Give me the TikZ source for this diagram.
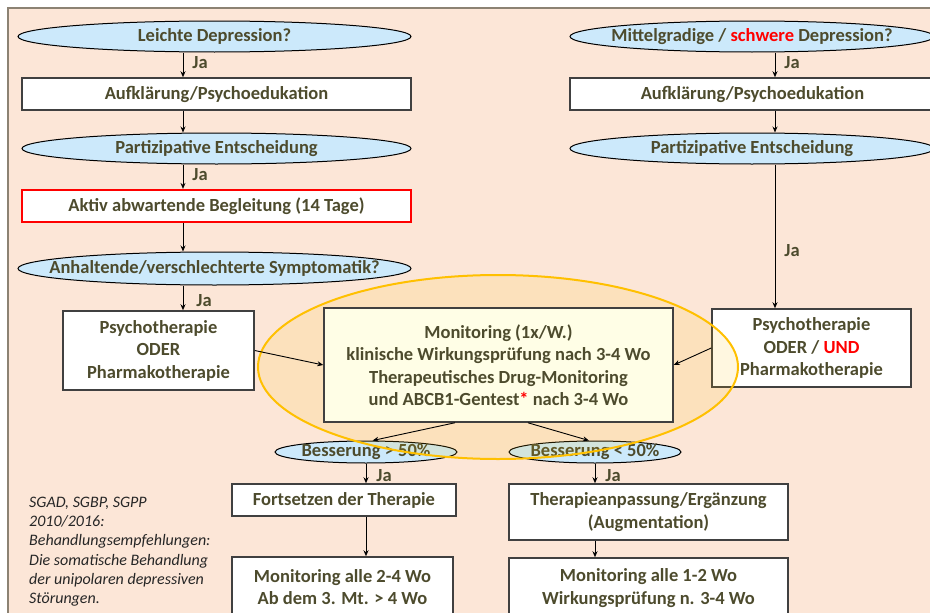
\documentclass[tikz,border=0pt]{standalone}
\usepackage{fontspec}
\setmainfont{Carlito}
\usepackage{tikz}
\definecolor{peach}{RGB}{252,230,215}
\definecolor{framecol}{RGB}{140,130,115}
\definecolor{skyblue}{RGB}{204,233,251}
\definecolor{inkolive}{RGB}{77,75,45}
\definecolor{monfill}{RGB}{255,254,230}
\definecolor{amber}{RGB}{255,192,0}
\usetikzlibrary{shapes.geometric}
\usetikzlibrary{arrows.meta}
\newcommand{\flowfont}{\fontsize{18.5}{22.5}\selectfont\bfseries}
\tikzset{
	qst/.style={ellipse,fill=skyblue,draw=black,line width=1pt,inner xsep=-40pt,inner ysep=-4pt,text=inkolive,font=\flowfont},
	box/.style={rectangle,fill=white,draw=black!75,line width=1.5pt,inner sep=0pt,text=inkolive,font=\flowfont,align=center},
	redbox/.style={box,draw=red,line width=2.2pt},
	monbox/.style={box,fill=monfill},
	arr/.style={->,line width=0.9pt},
	ja/.style={text=inkolive,font=\flowfont,inner sep=0pt},
	note/.style={align=left,font=\fontsize{16}{19.2}\selectfont\itshape,text=black!85,inner sep=0pt},
	>={Stealth[length=6pt,width=5pt]},
	}

\begin{document}
\begin{tikzpicture}[x=1pt,y=-1pt]
\useasboundingbox (0,0) rectangle (930,613);
% HINTERGRUND
\draw[fill=peach,draw=framecol,line width=1.5pt] (8,8) rectangle (940,625);
% SPALTEN
\coordinate (lc) at (183,0);
\coordinate (rc) at (775,0);
% LINKS
\node[qst,minimum width=393pt,minimum height=31pt] (q1) at (214.5,36.5) {Leichte Depression?};
\node[box,minimum width=389pt,minimum height=32pt] (a1) at (216.5,94) {Aufklärung/Psychoedukation};
\node[qst,minimum width=389pt,minimum height=31pt] (p1) at (216.5,148.5) {Partizipative Entscheidung};
\node[redbox,minimum width=389pt,minimum height=32pt] (w1) at (216.5,206) {Aktiv abwartende Begleitung (14 Tage)};
\node[qst,minimum width=393pt,minimum height=33pt] (s1) at (214.5,268.5) {Anhaltende/verschlechterte Symptomatik?};
\node[box,minimum width=191pt,minimum height=79pt] (t1) at (158.5,350.5) {Psychotherapie\\ODER\\Pharmakotherapie};
% RECHTS
\node[qst,minimum width=364pt,minimum height=31pt] (q2) at (752,36.5) {Mittelgradige / \textcolor{red}{schwere} Depression?};
\node[box,minimum width=365pt,minimum height=32pt] (a2) at (752.5,94) {Aufklärung/Psychoedukation};
\node[qst,minimum width=364pt,minimum height=31pt] (p2) at (752,148.5) {Partizipative Entscheidung};
\node[box,minimum width=199pt,minimum height=78pt] (t2) at (811.5,348) {Psychotherapie\\ODER / \textcolor{red}{UND}\\Pharmakotherapie};
% UNTEN
\node[qst,minimum width=182pt,minimum height=22pt] (b1) at (366,452) {Besserung > 50\%};
\node[qst,minimum width=172pt,minimum height=22pt] (b2) at (595,452) {Besserung < 50\%};
\node[box,minimum width=224pt,minimum height=32pt] (f1) at (344,500) {Fortsetzen der Therapie};
\node[box,minimum width=279pt,minimum height=56pt] (f2) at (648.5,512) {Therapieanpassung/Ergänzung\\(Augmentation)};
\node[box,minimum width=221pt,minimum height=60pt] (g1) at (342.5,587) {Monitoring alle 2-4 Wo\\Ab dem 3. Mt. > 4 Wo};
\node[box,minimum width=279pt,minimum height=60pt] (g2) at (648.5,588) {Monitoring alle 1-2 Wo\\Wirkungsprüfung n. 3-4 Wo};
% QUELLE
\node[note,anchor=north west] (src) at (29,497) {SGAD, SGBP, SGPP\\2010/2016:\\Behandlungsempfehlungen:\\Die somatische Behandlung\\der unipolaren depressiven\\Störungen.};
% MONITORING
\draw[amber,line width=2pt,fill=amber,fill opacity=0.12] (498,367) ellipse (240pt and 92pt);
\node[monbox,minimum width=349pt,minimum height=114pt] (m) at (498.5,365) {Monitoring (1x/W.)\\klinische Wirkungsprüfung nach 3-4 Wo\\Therapeutisches Drug-Monitoring\\und ABCB1-Gentest\textcolor{red}{*} nach 3-4 Wo};
% PFEILE LINKS
\draw[arr] (q1.south -| lc) -- node[ja,right=9pt,pos=0.4] {Ja} (a1.north -| lc);
\draw[arr] (a1.south -| lc) -- (p1.north -| lc);
\draw[arr] (p1.south -| lc) -- node[ja,right=9pt,pos=0.4] {Ja} (w1.north -| lc);
\draw[arr] (w1.south -| lc) -- (s1.north -| lc);
\draw[arr] (s1.south -| lc) -- node[ja,right=13pt,pos=0.6] {Ja} (t1.north -| lc);
% PFEILE RECHTS
\draw[arr] (q2.south -| rc) -- node[ja,right=9pt,pos=0.4] {Ja} (a2.north -| rc);
\draw[arr] (a2.south -| rc) -- (p2.north -| rc);
\draw[arr] (p2.south -| rc) -- node[ja,right=9pt,pos=0.6] {Ja} (t2.north -| rc);
% ZUM MONITORING
\draw[arr] (t1.east) -- (m.west);
\draw[arr] (t2.west) -- (m.east);
\draw[arr] (m.233) -- (b1.60);
\draw[arr] (m.297) -- (b2.118);
% PFEILE UNTEN
\draw[arr] (b1.south) -- node[ja,right=10pt,pos=0.6] {Ja} (b1.south |- f1.north);
\draw[arr] (b1.south |- f1.south) -- (b1.south |- g1.north);
\draw[arr] (b2.south) -- node[ja,right=10pt,pos=0.6] {Ja} (b2.south |- f2.north);
\draw[arr] (b2.south |- f2.south) -- (b2.south |- g2.north);
\end{tikzpicture}
\end{document}
